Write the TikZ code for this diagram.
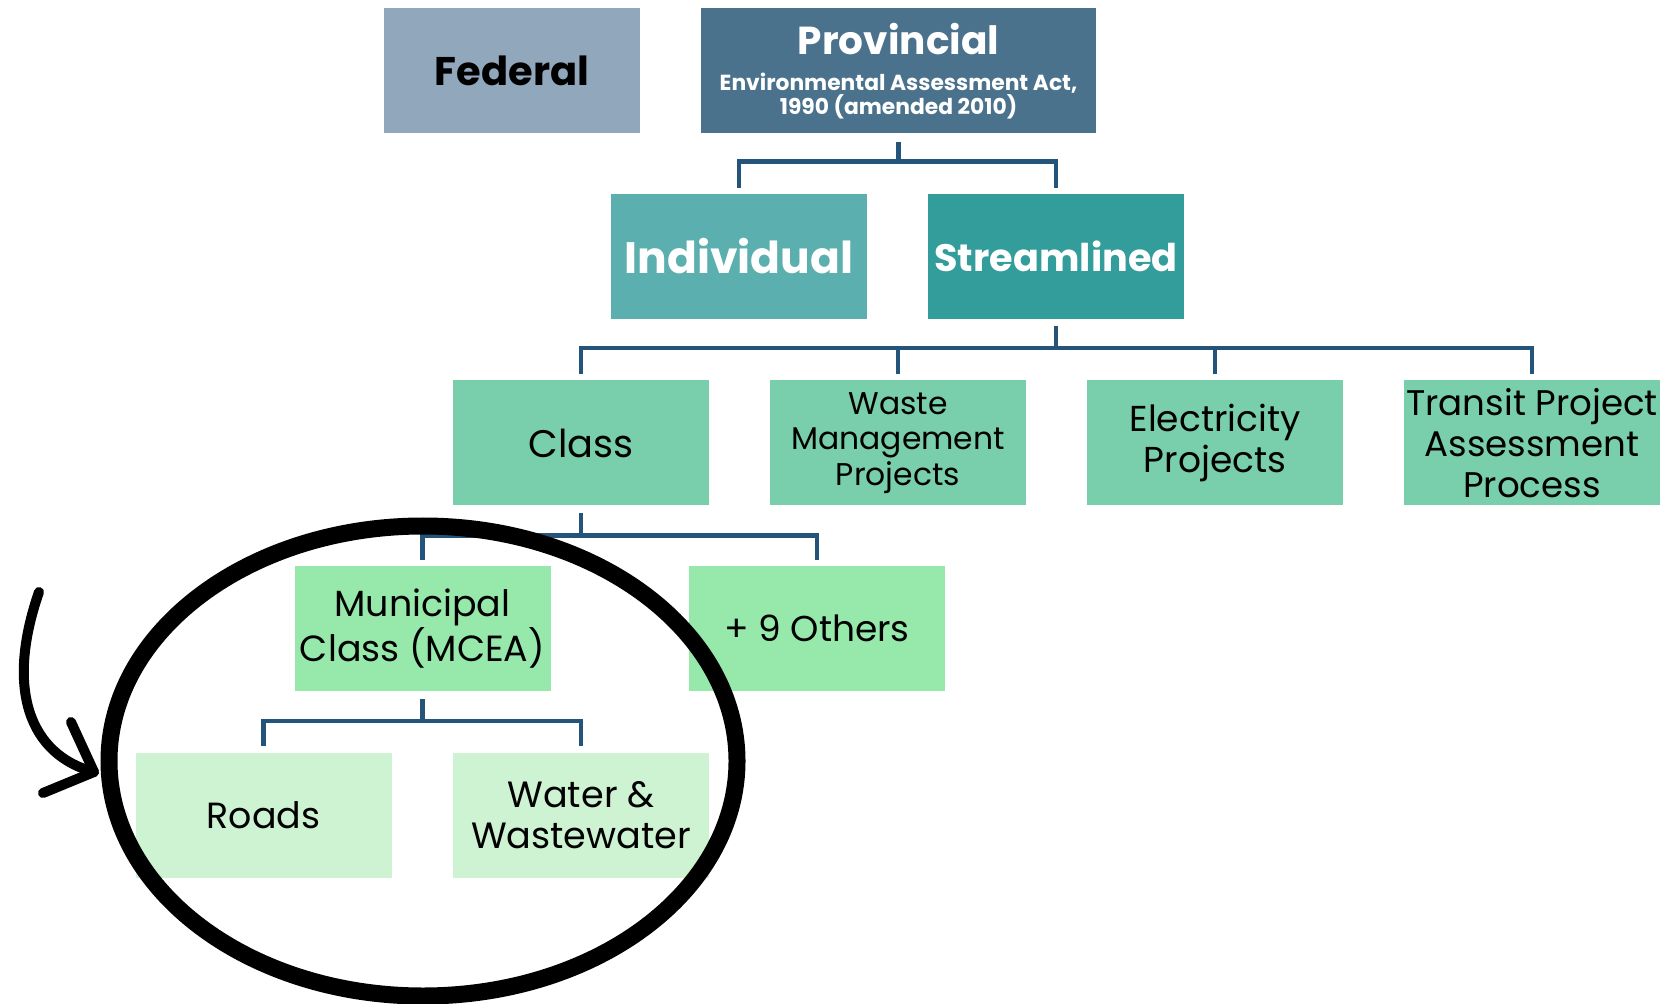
\documentclass[tikz,border=0pt]{standalone}
\usepackage{fontspec}
\setmainfont{Poppins}
\usetikzlibrary{calc}
\definecolor{fedc}{HTML}{91A8BC}
\definecolor{provc}{HTML}{4B728C}
\definecolor{indc}{HTML}{5CAFAF}
\definecolor{strc}{HTML}{339D9B}
\definecolor{rowc}{HTML}{79CEAB}
\definecolor{munc}{HTML}{96E9AB}
\definecolor{leafc}{HTML}{CEF3D3}
\definecolor{connc}{HTML}{245479}
\tikzset{
  box/.style={rectangle, minimum width=128pt, minimum height=62.5pt, inner sep=0pt, align=center, text=black},
  conn/.style={draw=connc, line width=2.2pt},
}
\begin{document}
\begin{tikzpicture}[x=0.5pt,y=-0.5pt]
\useasboundingbox (0,0) rectangle (1673,1004);
% top row
\node[box, fill=fedc, font=\fontsize{20}{24}\selectfont\bfseries] (fed) at (512,71) {Federal};
\node[box, fill=provc, text=white, minimum width=197.5pt, font=\bfseries] (prov) at (898.5,71)
  {\fontsize{19.5}{22}\selectfont Provincial\\[6pt]\fontsize{10.9}{14.3}\selectfont Environmental Assessment Act,\\\fontsize{10.9}{14.3}\selectfont 1990 (amended 2010)\rule[-2pt]{0pt}{1pt}};
% second row
\node[box, fill=indc, text=white, font=\fontsize{22}{26}\selectfont\bfseries] (ind) at (739,256.5) {Individual};
\node[box, fill=strc, text=white, font=\fontsize{19.1}{24}\selectfont\bfseries] (str) at (1056,256.5) {Streamlined};
% third row
\node[box, fill=rowc, font=\fontsize{19.2}{24}\selectfont] (class) at (581,443) {Class};
\node[box, fill=rowc, font=\fontsize{15.7}{17.6}\selectfont] (waste) at (898,443) {Waste\\Management\\Projects};
\node[box, fill=rowc, font=\fontsize{18}{20.3}\selectfont] (elec) at (1215,443) {Electricity\\Projects};
\node[box, fill=rowc, font=\fontsize{17.8}{20.5}\selectfont] (trans) at (1532,443) {Transit Project\\Assessment\\Process};
% fourth row
\node[box, fill=munc, font=\fontsize{18.2}{20}\selectfont] (mun) at (422.5,628.5) {Municipal\\Class (MCEA)};
\node[box, fill=munc, font=\fontsize{18}{20}\selectfont] (oth) at (817,628.5) {+ 9 Others};
% fifth row
\node[box, fill=leafc, font=\fontsize{18.2}{20}\selectfont] (roads) at (263.5,815) {Roads};
\node[box, fill=leafc, font=\fontsize{18.3}{20.3}\selectfont] (water) at (581,815) {Water \&\\Wastewater};
% connectors
\draw[conn] ($(prov.south)+(0,8)$) -- ($(prov.south)+(0,29)$);
\draw[conn] ($(ind.north)+(0,-6)$) -- ($(ind.north)+(0,-32)$) -| ($(str.north)+(0,-6)$);
\draw[conn] ($(str.south)+(0,7)$) -- ($(str.south)+(0,30)$);
\draw[conn] ($(class.north)+(0,-6)$) -- ($(class.north)+(0,-32)$) -| ($(trans.north)+(0,-6)$);
\draw[conn] ($(waste.north)+(0,-6)$) -- ($(waste.north)+(0,-32)$);
\draw[conn] ($(elec.north)+(0,-6)$) -- ($(elec.north)+(0,-32)$);
\draw[conn] ($(class.south)+(0,7)$) -- ($(class.south)+(0,31)$);
\draw[conn] ($(mun.north)+(0,-6)$) -- ($(mun.north)+(0,-30)$) -| ($(oth.north)+(0,-6)$);
\draw[conn] ($(mun.south)+(0,8)$) -- ($(mun.south)+(0,31)$);
\draw[conn] ($(roads.north)+(0,-6)$) -- ($(roads.north)+(0,-31)$) -| ($(water.north)+(0,-6)$);
% highlight ellipse
\coordinate (ec) at (423,761);
\draw[line width=8.5pt] (ec) ellipse [x radius=157pt, y radius=117.5pt];
% hand-drawn arrow
\coordinate (as) at (39,592);
\coordinate (at) at (94,772);
\coordinate (ha) at (71,722);
\coordinate (hb) at (43,793);
\draw[line width=5pt, line cap=round, line join=round] (as) .. controls (5,690) and (30,755) .. (at);
\draw[line width=5pt, line cap=round, line join=round] (ha) -- (at) -- (hb);
\end{tikzpicture}
\end{document}
